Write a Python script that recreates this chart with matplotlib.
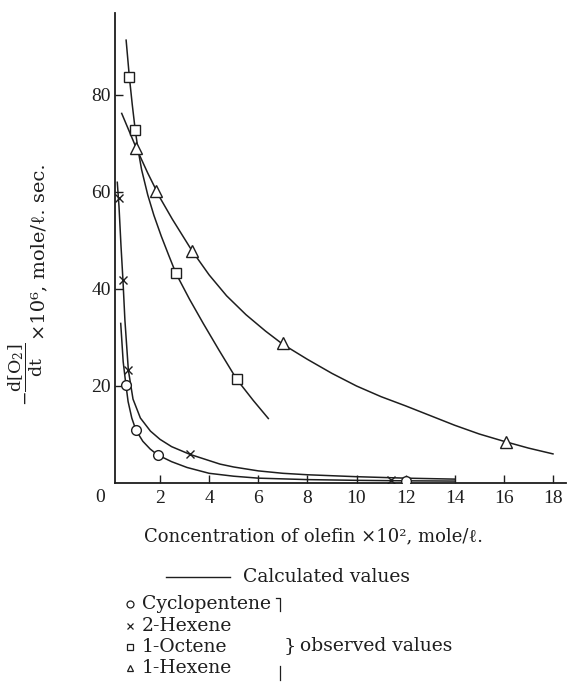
import numpy as np
import matplotlib
matplotlib.use("Agg")
import matplotlib.pyplot as plt
from matplotlib.lines import Line2D

plt.rcParams['font.family'] = ['Liberation Serif', 'DejaVu Serif']
plt.rcParams['mathtext.fontset'] = 'dejavuserif'

# calculated curves
cyclo_cx = [0.4, 0.5, 0.61, 0.7, 0.85, 1.02, 1.3, 1.6, 1.9, 2.47, 3.1, 4.0, 5.0, 6.0, 8.0, 10.0, 12.0, 14.0]
cyclo_cy = [32.9, 25.0, 20.3, 16.8, 13.4, 10.9, 8.6, 7.0, 5.8, 4.4, 3.2, 2.0, 1.4, 1.0, 0.7, 0.55, 0.45, 0.4]

hex2_cx = [0.26, 0.33, 0.41, 0.49, 0.57, 0.71, 0.9, 1.2, 1.61, 2.0, 2.47, 3.22, 4.44, 5.0, 6.0, 7.0, 8.0, 10.0, 12.0, 14.0]
hex2_cy = [62.0, 57.0, 49.0, 41.9, 33.6, 23.3, 17.3, 13.4, 10.7, 9.0, 7.5, 5.9, 3.9, 3.3, 2.5, 2.0, 1.7, 1.3, 1.0, 0.8]

oct_cx = [0.62, 0.75, 0.87, 0.99, 1.1, 1.25, 1.5, 1.75, 2.05, 2.35, 2.65, 3.2, 3.76, 4.4, 5.12, 5.8, 6.41]
oct_cy = [91.3, 83.8, 78.0, 72.8, 68.9, 64.6, 59.4, 55.2, 50.9, 47.0, 43.2, 37.9, 32.9, 27.4, 21.4, 17.0, 13.3]

hex1_cx = [0.44, 1.03, 1.5, 2.0, 2.5, 3.3, 4.0, 4.71, 5.5, 6.3, 7.0, 8.0, 9.0, 10.0, 11.0, 12.0, 13.0, 14.0, 15.0, 16.0, 17.0, 18.0]
hex1_cy = [76.2, 69.1, 63.9, 58.8, 54.4, 47.9, 42.9, 38.6, 34.7, 31.3, 28.6, 25.5, 22.6, 20.0, 17.8, 15.9, 13.9, 11.9, 10.1, 8.6, 7.2, 6.0]

# observed values
cyclo_x = [0.61, 1.02, 1.9, 12.0]
cyclo_y = [20.3, 10.9, 5.8, 0.5]
hex2_x = [0.34, 0.49, 0.71, 3.22, 11.4]
hex2_y = [58.7, 41.9, 23.3, 5.9, 0.6]
oct_x = [0.745, 0.99, 2.65, 5.12]
oct_y = [83.8, 72.8, 43.2, 21.4]
hex1_x = [1.03, 1.84, 3.3, 7.0, 16.09]
hex1_y = [69.1, 60.3, 47.9, 28.8, 8.4]

xticks = [2, 4, 6, 8, 10, 12, 14, 16, 18]
yticks = [20, 40, 60, 80]

W, H = 570, 698
def fx(px):
    return px / W
def fy(py):
    return 1 - py / H

ink = '#1e1e1e'
txt = ['DejaVu Serif', 'Liberation Serif']
fig = plt.figure(figsize=(5.7, 6.98), dpi=100)
ax = fig.add_axes([fx(115), fy(483), (566 - 115) / W, (483 - 13) / H])

for cx, cy in [(cyclo_cx, cyclo_cy), (hex2_cx, hex2_cy), (oct_cx, oct_cy), (hex1_cx, hex1_cy)]:
    ax.plot(cx, cy, color=ink, lw=1.1)

mk = dict(ls='none', mfc='white', mec=ink, mew=1.0, zorder=3)
ax.plot(cyclo_x, cyclo_y, marker='o', ms=7, **mk)
ax.plot(hex2_x, hex2_y, marker='x', ms=6, **mk)
ax.plot(oct_x, oct_y, marker='s', ms=7, **mk)
ax.plot(hex1_x, hex1_y, marker='^', ms=8, **mk)

ax.set_xlim(0.167, 18.53)
ax.set_ylim(0, 96.9)
ax.spines['top'].set_visible(False)
ax.spines['right'].set_visible(False)
for s in ['left', 'bottom']:
    ax.spines[s].set_linewidth(1.3)
    ax.spines[s].set_color(ink)
ax.set_xticks(xticks)
ax.set_xticklabels([str(t) for t in xticks])
ax.set_yticks(yticks)
ax.set_yticklabels([str(t) for t in yticks])
ax.tick_params(direction='in', length=6, width=1, colors=ink, labelsize=14, pad=5)
ax.tick_params(axis='y', pad=3)

fig.text(fx(100), fy(497), '0', fontsize=14, ha='center', va='center', color=ink)

fig.text(fx(314), fy(536), 'Concentration of olefin ×10², mole/ℓ.',
         fontsize=13, ha='center', va='center', color=ink, family=txt)

# y label: fraction piece + plain text piece, both rotated
fig.text(fx(26), fy(374), r'$-\dfrac{\mathrm{d[O_2]}}{\mathrm{dt}}$',
         fontsize=12.5, ha='center', va='center', rotation=90, rotation_mode='anchor', color=ink)
fig.text(fx(39), fy(340), '×10⁶, mole/ℓ. sec.',
         fontsize=14, ha='left', va='center', rotation=90, rotation_mode='anchor',
         color=ink, family=txt)

# legend block
fig.add_artist(Line2D([fx(166), fx(230)], [fy(577), fy(577)], color=ink, lw=1.0,
                      transform=fig.transFigure))
fig.text(fx(243), fy(577), 'Calculated values', fontsize=13.5, ha='left', va='center',
         color=ink, family=txt)

names = ['Cyclopentene', '2-Hexene', '1-Octene', '1-Hexene']
marks = ['o', 'x', 's', '^']
rows = [604, 626, 647, 668]
for name, m, r in zip(names, marks, rows):
    fig.add_artist(Line2D([fx(130)], [fy(r)], marker=m, ms=5, mfc='white', mec=ink, mew=0.9,
                          ls='none', transform=fig.transFigure))
    fig.text(fx(142), fy(r), name, fontsize=13.5, ha='left', va='center', color=ink, family=txt)

fig.add_artist(Line2D([fx(276), fx(280), fx(280)], [fy(598), fy(598), fy(611)], color=ink,
                      lw=0.9, transform=fig.transFigure))
fig.add_artist(Line2D([fx(280), fx(280)], [fy(666), fy(680)], color=ink,
                      lw=0.9, transform=fig.transFigure))
fig.text(fx(290), fy(646), '}', fontsize=14, ha='center', va='center', color=ink, family=txt)
fig.text(fx(300), fy(646), 'observed values', fontsize=13.5, ha='left', va='center',
         color=ink, family=txt)

fig.savefig('out.png', dpi=100)
